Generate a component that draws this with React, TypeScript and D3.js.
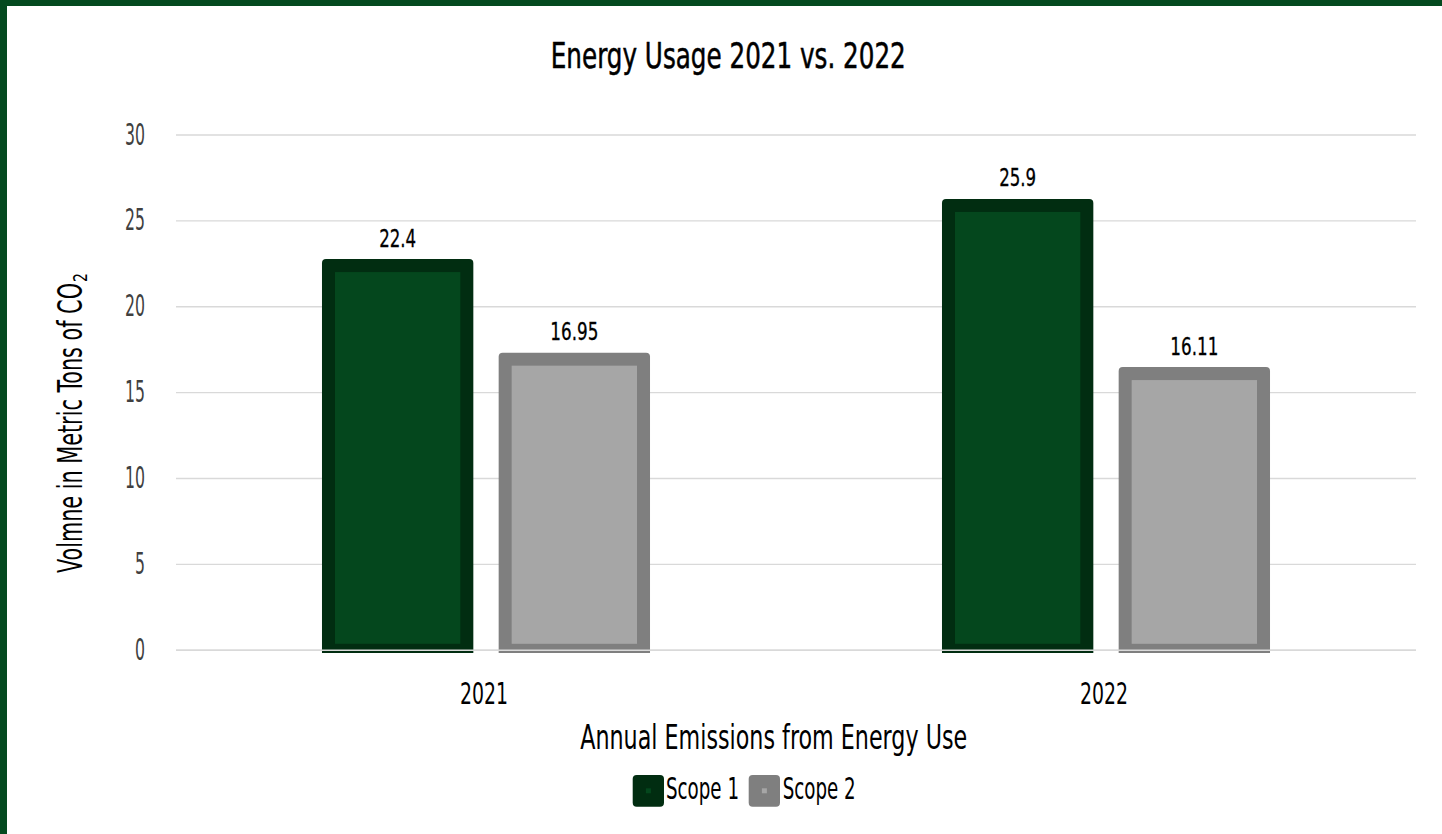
import React from "react";
import * as d3 from "d3";

// Chart data
const categories = ["2021", "2022"];
const seriesNames = ["Scope 1", "Scope 2"];
const scope1Values = [22.4, 25.9];
const scope2Values = [16.95, 16.11];
const scope1Labels = ["22.4", "25.9"];
const scope2Labels = ["16.95", "16.11"];
const yTicks = [0, 5, 10, 15, 20, 25, 30];

const W = 1442;
const H = 834;
const FONT = "'Liberation Sans Narrow', 'DejaVu Sans Condensed', 'Liberation Sans', Roboto, sans-serif";

const seriesStyle = [
  { fill: "#04471d", stroke: "#012d11" },
  { fill: "#a6a6a6", stroke: "#7f7f7f" },
];

const STROKE = 13;
const BASE_CLIP = 653;

export default function App() {
  const x0 = d3.scaleBand<string>().domain(categories).range([176, 1416]).padding(0);
  const x1 = d3
    .scaleBand<string>()
    .domain(seriesNames)
    .range([0, x0.bandwidth()])
    .paddingInner(0.217)
    .paddingOuter(0.863);
  const y = d3.scaleLinear().domain([0, 30]).range([650.3, 135]);
  const bw = x1.bandwidth();

  const rows = categories.map((c, i) => ({
    cat: c,
    vals: [
      { s: seriesNames[0], v: scope1Values[i], label: scope1Labels[i] },
      { s: seriesNames[1], v: scope2Values[i], label: scope2Labels[i] },
    ],
  }));

  const half = STROKE / 2;

  return (
    <svg
      width={W}
      height={H}
      style={{ position: "fixed", left: 0, top: 0, background: "#ffffff" }}
      fontFamily={FONT}
    >
      <defs>
        <clipPath id="plotClip">
          <rect x={0} y={0} width={W} height={BASE_CLIP} />
        </clipPath>
      </defs>

      {/* frame */}
      <rect x={0} y={0} width={W} height={6} fill="#044a1f" />
      <rect x={0} y={0} width={7} height={H} fill="#044a1f" />

      {/* title */}
      <text x={728.3} y={68.3} fontSize={36} textAnchor="middle" fill="#000" stroke="#000" strokeWidth={0.5} textLength={355} lengthAdjust="spacingAndGlyphs">
        Energy Usage 2021 vs. 2022
      </text>

      {/* gridlines */}
      {yTicks.map((t) => (
        <line key={`g${t}`} x1={176} x2={1416} y1={y(t)} y2={y(t)} stroke="#d9d9d9" strokeWidth={1.4} />
      ))}

      {/* y tick labels */}
      {yTicks.map((t) => (
        <text
          key={`t${t}`}
          x={145}
          y={y(t) + 9.5}
          fontSize={30}
          textAnchor="end"
          fill="#404040"
          textLength={String(t).length * 10}
          lengthAdjust="spacingAndGlyphs"
        >
          {t}
        </text>
      ))}

      {/* bars */}
      <g clipPath="url(#plotClip)">
        {rows.map((r) =>
          r.vals.map((d, j) => {
            const bx = (x0(r.cat) ?? 0) + (x1(d.s) ?? 0);
            const by = y(d.v);
            const st = seriesStyle[j];
            return (
              <g key={`${r.cat}-${d.s}`}>
                <rect
                  x={bx - half}
                  y={by - half}
                  width={bw + STROKE}
                  height={y(0) - by + STROKE + 10}
                  rx={4}
                  fill={st.stroke}
                />
                <rect
                  x={bx + half}
                  y={by + half}
                  width={bw - STROKE}
                  height={y(0) - half - (by + half)}
                  fill={st.fill}
                />
              </g>
            );
          })
        )}
      </g>

      {/* baseline over bars */}
      <line x1={176} x2={1416} y1={y(0)} y2={y(0)} stroke="#d9d9d9" strokeWidth={1.4} />

      {/* data labels */}
      {rows.map((r) =>
        r.vals.map((d) => {
          const cx = (x0(r.cat) ?? 0) + (x1(d.s) ?? 0) + bw / 2;
          return (
            <text
              key={`l${r.cat}-${d.s}`}
              x={cx}
              y={y(d.v) - 19}
              fontSize={25}
              textAnchor="middle"
              fill="#000"
              stroke="#000"
              strokeWidth={0.3}
              textLength={d.label.length === 5 ? 48 : 37}
              lengthAdjust="spacingAndGlyphs"
            >
              {d.label}
            </text>
          );
        })
      )}

      {/* category labels */}
      {categories.map((c) => (
        <text
          key={`c${c}`}
          x={(x0(c) ?? 0) + x0.bandwidth() / 2 - 2}
          y={704}
          fontSize={31}
          textAnchor="middle"
          fill="#000"
          textLength={48}
          lengthAdjust="spacingAndGlyphs"
        >
          {c}
        </text>
      ))}

      {/* x axis title */}
      <text x={773.7} y={749} fontSize={34} textAnchor="middle" fill="#000" textLength={387} lengthAdjust="spacingAndGlyphs">
        Annual Emissions from Energy Use
      </text>

      {/* y axis title */}
      <g transform="translate(81.7,573) rotate(-90)">
        <text x={0} y={0} fontSize={34} fill="#000" textLength={290} lengthAdjust="spacingAndGlyphs">
          Volmne in Metric Tons of CO
        </text>
        <text x={291} y={5} fontSize={19} fill="#000" textLength={9} lengthAdjust="spacingAndGlyphs">
          2
        </text>
      </g>

      {/* legend */}
      {seriesNames.map((s, i) => {
        const lx = i === 0 ? 632.7 : 748.7;
        const tx = i === 0 ? 666 : 782.7;
        return (
          <g key={`lg${s}`}>
            <rect x={lx} y={775} width={31.3} height={31.7} rx={4} fill={seriesStyle[i].stroke} />
            <rect x={lx + 13.2} y={775 + 13.3} width={5} height={5} fill={seriesStyle[i].fill} />
            <text x={tx} y={799.3} fontSize={30} fill="#000" textLength={73} lengthAdjust="spacingAndGlyphs">
              {s}
            </text>
          </g>
        );
      })}
    </svg>
  );
}
